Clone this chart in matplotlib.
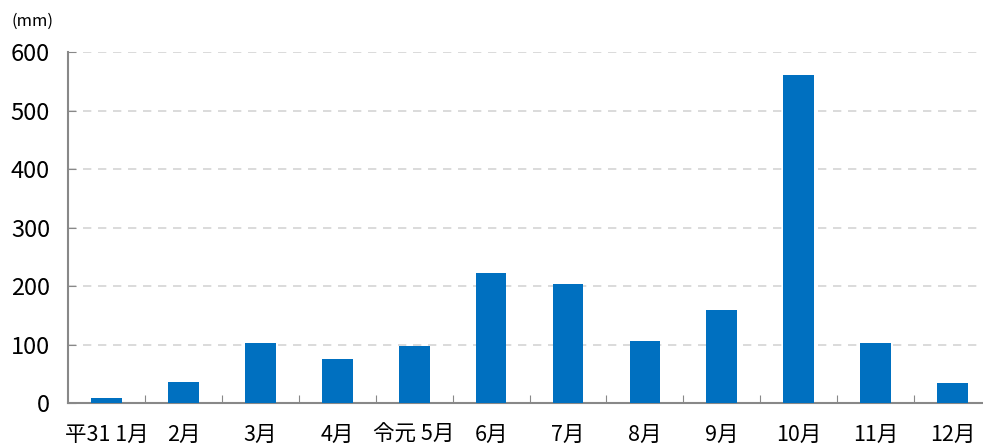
import matplotlib.pyplot as plt
import numpy as np

plt.rcParams['font.family'] = ['Noto Sans CJK JP', 'DejaVu Sans']

# -- data
months = ['平31 1月', '2月', '3月', '4月', '令元 5月', '6月',
          '7月', '8月', '9月', '10月', '11月', '12月']
rain = [8.5, 36, 102, 75, 98, 222, 203, 106, 159, 560, 102, 34]

fig = plt.figure(figsize=(9.83, 4.48), dpi=100)
ax = fig.add_axes([0.0692, 0.1004, 0.9308, 0.7835])

x = np.arange(len(months))
ax.bar(x, rain, width=0.40, color='#0070c0', zorder=3)

ax.set_xlim(-0.5, 11.396)
ax.set_ylim(0, 600)
ax.set_yticks(np.arange(0, 601, 100))
ax.yaxis.grid(True, linestyle=(0, (5, 4)), color='#d4d4d4', linewidth=1.2, zorder=0)

# category boundary ticks on x, labels in the middle
ax.set_xticks(np.arange(0.5, len(months) - 0.5, 1))
ax.set_xticks(x, minor=True)
ax.set_xticklabels(months, minor=True, fontsize=15.5)
ax.tick_params(axis='x', which='major', direction='in', length=6,
               color='#888888', labelbottom=False)
ax.tick_params(axis='x', which='minor', length=0, pad=15)
ax.tick_params(axis='y', direction='in', length=6, color='#888888',
               labelsize=17, pad=13)

for s in ['top', 'right']:
    ax.spines[s].set_visible(False)
for s in ['left', 'bottom']:
    ax.spines[s].set_color('#888888')
    ax.spines[s].set_linewidth(1.5)

fig.text(0.012, 0.942, '(mm)', fontsize=12)

fig.savefig('out.png', dpi=100)
